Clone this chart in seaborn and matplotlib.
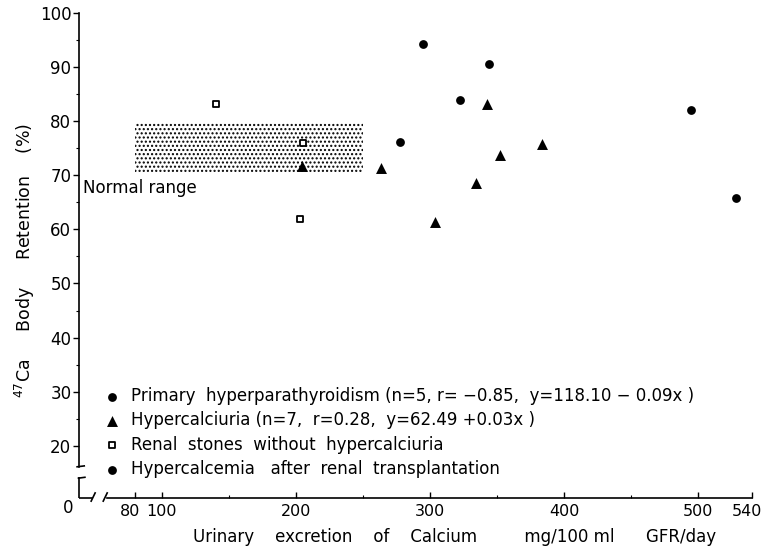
import matplotlib
matplotlib.use("Agg")
import matplotlib.pyplot as plt
import matplotlib.transforms as mtransforms
import seaborn as sns
import pandas as pd
import numpy as np

# ---- data ----
hpt_x = [294.6, 343.7, 322.4, 494.4, 528.4]
hpt_y = [94.3, 90.6, 83.9, 82.1, 65.8]

hcu_x = [204.5, 263.6, 303.3, 334.3, 342.3, 352.4, 383.2]
hcu_y = [71.8, 71.4, 61.4, 68.5, 83.2, 73.7, 75.8]

stone_x = [140.7, 205.2, 202.8]
stone_y = [83.1, 76.0, 61.9]

tx_x = [277.2]
tx_y = [76.2]

normal_x = [80, 250]
normal_y = [70.6, 79.6]

x_ticks = [80, 100, 200, 300, 400, 500, 540]
y_ticks = [20, 30, 40, 50, 60, 70, 80, 90, 100]

labels = [
    "Primary  hyperparathyroidism (n=5, r= \u22120.85,  y=118.10 \u2212 0.09x )",
    "Hypercalciuria (n=7,  r=0.28,  y=62.49 +0.03x )",
    "Renal  stones  without  hypercalciuria",
    "Hypercalcemia   after  renal  transplantation",
]

sns.set_style("ticks")
plt.rcParams["font.family"] = ["DejaVu Sans"]
plt.rcParams["hatch.linewidth"] = 1.0
plt.rcParams["hatch.color"] = "black"
for k in ("text.color", "axes.labelcolor", "xtick.color", "ytick.color",
          "axes.edgecolor"):
    plt.rcParams[k] = "black"

fig = plt.figure(figsize=(7.65, 5.51), dpi=100)
ax = fig.add_axes([79 / 765, 1 - 498 / 551, 673 / 765, 485 / 551])

XMIN, XMAX = 38.2, 540
YMIN, YMAX = 10.35, 100

# normal range box
ax.fill_between(normal_x, normal_y[0], normal_y[1], facecolor="white",
                edgecolor="black", hatch="....", linewidth=0, zorder=1)
ax.text(41.5, 67.7, "Normal range", fontsize=12, ha="left", va="center")

df1 = pd.DataFrame({"x": hpt_x, "y": hpt_y})
df2 = pd.DataFrame({"x": hcu_x, "y": hcu_y})
df3 = pd.DataFrame({"x": stone_x, "y": stone_y})
df4 = pd.DataFrame({"x": tx_x, "y": tx_y})

sns.scatterplot(data=df1, x="x", y="y", ax=ax, marker="o", s=40, color="black",
                edgecolor="black", linewidth=0, label=labels[0], zorder=3)
sns.scatterplot(data=df2, x="x", y="y", ax=ax, marker="^", s=62, color="black",
                edgecolor="black", linewidth=0, label=labels[1], zorder=3)
sns.scatterplot(data=df3, x="x", y="y", ax=ax, marker="s", s=22, facecolor="white",
                edgecolor="black", linewidth=1.3, label=labels[2], zorder=3)
sns.scatterplot(data=df4, x="x", y="y", ax=ax, marker="o", s=40, color="black",
                edgecolor="black", linewidth=0, label=labels[3], zorder=3)

ax.set_xlim(XMIN, XMAX)
ax.set_ylim(YMIN, YMAX)

leg = ax.legend(loc="upper left", bbox_to_anchor=(0.037, 0.229), frameon=False,
                fontsize=12, borderpad=0, borderaxespad=0, handlelength=1.0,
                handletextpad=0.6, labelspacing=0.38)

# ticks
ax.set_xticks(x_ticks)
ax.set_xticklabels([str(v) for v in x_ticks])
ax.set_yticks(y_ticks)
ax.set_yticklabels([str(v) for v in y_ticks])
ax.set_xticks([150, 250, 350, 450], minor=True)
ax.set_yticks([25, 35, 45, 55, 65, 75, 85, 95], minor=True)
ax.tick_params(axis="x", which="major", direction="in", length=4, width=1,
               labelsize=11.5, pad=4)
ax.tick_params(axis="x", which="minor", direction="in", length=2, width=0.8)
ax.tick_params(axis="y", which="major", direction="out", length=4, width=1,
               labelsize=12, pad=1.5)
ax.tick_params(axis="y", which="minor", direction="out", length=2, width=0.8)

# nudge the crowded end labels like the original
fig.canvas.draw()
xt = ax.get_xticklabels()
shift_left = mtransforms.ScaledTranslation(-5 / 100, 0, fig.dpi_scale_trans)
xt[0].set_transform(xt[0].get_transform() + shift_left)
xt[-1].set_transform(xt[-1].get_transform() + shift_left)

# spines with breaks
sns.despine(ax=ax)
for sp in ("left", "bottom"):
    ax.spines[sp].set_linewidth(1.2)
ax.spines["left"].set_bounds(16.1, YMAX)
ax.spines["bottom"].set_bounds(59, XMAX)

def fx(v):
    return (v - XMIN) / (XMAX - XMIN)

def fy(v):
    return (v - YMIN) / (YMAX - YMIN)

kw = dict(transform=ax.transAxes, color="black", lw=1.2, clip_on=False,
          solid_capstyle="butt")
ax.plot([0, 0], [0, fy(14.2)], **kw)
ax.plot([-0.004, 0.009], [fy(16.1), fy(16.3)], **kw)
ax.plot([-0.002, 0.010], [fy(14.0), fy(14.2)], **kw)
ax.plot([0, fx(48.6)], [0, 0], **kw)
ax.plot([fx(47.0), fx(50.5)], [-0.008, 0.012], **kw)
ax.plot([fx(56.0), fx(59.5)], [-0.008, 0.012], **kw)

ax.text(-0.016, -0.02, "0", transform=ax.transAxes, fontsize=12,
        ha="center", va="center")

ax.set_xlabel("Urinary    excretion    of    Calcium         mg/100 ml      GFR/day",
              fontsize=12)
ax.xaxis.label.set_ha("left")
ax.xaxis.label.set_va("center")
ax.xaxis.set_label_coords((193 - 79) / 673, -0.080)
ax.set_ylabel(r"$^{47}$Ca     Body     Retention    (%)", fontsize=12.5)
ax.yaxis.set_label_coords(-0.062, 0.49)

fig.savefig("out.png", dpi=100)
